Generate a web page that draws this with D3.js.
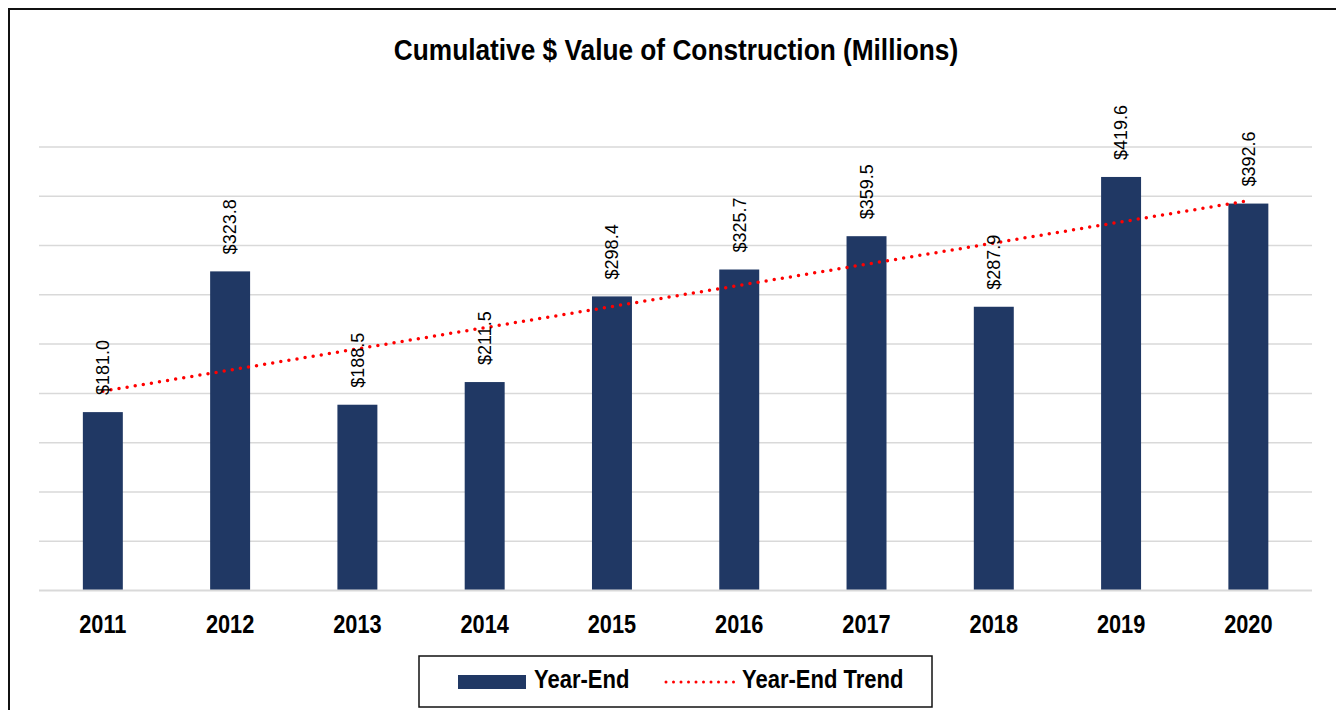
<!DOCTYPE html>
<html>
<head>
<meta charset="utf-8">
<script src="https://cdn.jsdelivr.net/npm/d3@7"></script>
<style>
  body { margin: 0; background: #fff; }
  svg { display: block; }
</style>
</head>
<body>
<div id="chart"></div>
<script>
var years = ["2011", "2012", "2013", "2014", "2015", "2016", "2017", "2018", "2019", "2020"];
var yearEnd = [181.0, 323.8, 188.5, 211.5, 298.4, 325.7, 359.5, 287.9, 419.6, 392.6];
var gridTicks = [50, 100, 150, 200, 250, 300, 350, 400, 450];

var narrow = "'Liberation Sans Narrow', 'Arial Narrow', 'Liberation Sans', Arial, sans-serif";
var navy = "#203864";

// squeeze text horizontally to fake a narrow face
function condense(sel, ratio) {
    sel.each(function() {
        var w = this.getComputedTextLength();
        d3.select(this)
            .attr("textLength", w * ratio)
            .attr("lengthAdjust", "spacingAndGlyphs");
    });
}

var svg = d3.select("#chart")
    .append("svg")
    .attr("width", 1336)
    .attr("height", 710);

// outer frame (runs off the right and bottom edges)
svg.append("rect")
    .attr("x", 9).attr("y", 9)
    .attr("width", 1400).attr("height", 800)
    .attr("fill", "none")
    .attr("stroke", "#111")
    .attr("stroke-width", 2);

svg.append("text")
    .attr("x", 676).attr("y", 60)
    .attr("text-anchor", "middle")
    .style("font-family", narrow)
    .style("font-weight", "bold")
    .style("font-size", "29px")
    .text("Cumulative $ Value of Construction (Millions)")
    .call(condense, 0.905);

var x = d3.scaleBand()
    .domain(years)
    .range([39.2, 1312])
    .paddingInner(0.686)
    .paddingOuter(0.343);

var y = d3.scaleLinear()
    .domain([0, 450])
    .range([590.5, 147]);

// gridlines
svg.append("g")
    .selectAll("line")
    .data(gridTicks)
    .enter().append("line")
    .attr("x1", 39).attr("x2", 1312)
    .attr("y1", function(d) { return y(d); })
    .attr("y2", function(d) { return y(d); })
    .attr("stroke", "#d9d9d9")
    .attr("stroke-width", 1.5);

var data = years.map(function(yr, i) { return { year: yr, value: yearEnd[i] }; });

svg.append("g")
    .selectAll("rect")
    .data(data)
    .enter().append("rect")
    .attr("x", function(d) { return x(d.year); })
    .attr("width", x.bandwidth())
    .attr("y", function(d) { return y(d.value); })
    .attr("height", function(d) { return y(0) - y(d.value); })
    .attr("fill", navy);

// baseline
svg.append("line")
    .attr("x1", 39).attr("x2", 1312)
    .attr("y1", y(0)).attr("y2", y(0))
    .attr("stroke", "#d9d9d9")
    .attr("stroke-width", 2);

// x axis labels
var xAxis = svg.append("g")
    .attr("transform", "translate(0," + y(0) + ")")
    .call(d3.axisBottom(x).tickSize(0).tickPadding(0));
xAxis.select(".domain").remove();
xAxis.selectAll("text")
    .attr("y", 42.5)
    .attr("dy", 0)
    .style("font-family", narrow)
    .style("font-weight", "bold")
    .style("font-size", "25px")
    .attr("fill", "#000")
    .call(condense, 0.87);

// linear trend (least squares over the bars)
var n = yearEnd.length;
var mx = d3.mean(d3.range(n), function(i) { return i; });
var my = d3.mean(yearEnd);
var slope = d3.sum(d3.range(n), function(i) { return (i - mx) * (yearEnd[i] - my); }) /
            d3.sum(d3.range(n), function(i) { return (i - mx) * (i - mx); });
var trend = data.map(function(d, i) { return { year: d.year, value: my + slope * (i - mx) }; });

var line = d3.line()
    .x(function(d) { return x(d.year) + x.bandwidth() / 2; })
    .y(function(d) { return y(d.value); });

svg.append("path")
    .datum([trend[0], trend[n - 1]])
    .attr("d", line)
    .attr("fill", "none")
    .attr("stroke", "#ff0000")
    .attr("stroke-width", 3.5)
    .attr("stroke-linecap", "round")
    .attr("stroke-dasharray", "0,8.2");

// data labels
var fmt = d3.format("$.1f");
svg.append("g")
    .selectAll("text")
    .data(data)
    .enter().append("text")
    .attr("transform", function(d) {
        return "translate(" + (x(d.year) + x.bandwidth() / 2) + "," + (y(d.value) - 17) + ") rotate(-90)";
    })
    .attr("dy", "0.35em")
    .style("font-family", "'Liberation Sans', Arial, sans-serif")
    .style("font-size", "18px")
    .attr("fill", "#000")
    .text(function(d) { return fmt(d.value); });

// legend
var legend = svg.append("g");
legend.append("rect")
    .attr("x", 419).attr("y", 656)
    .attr("width", 513).attr("height", 51)
    .attr("fill", "#fff")
    .attr("stroke", "#111")
    .attr("stroke-width", 1.5);
legend.append("rect")
    .attr("x", 458).attr("y", 675)
    .attr("width", 68).attr("height", 14)
    .attr("fill", navy);
legend.append("text")
    .attr("x", 534).attr("y", 688)
    .style("font-family", narrow)
    .style("font-weight", "bold")
    .style("font-size", "25px")
    .text("Year-End")
    .call(condense, 0.88);
legend.append("line")
    .attr("x1", 666).attr("x2", 734)
    .attr("y1", 682).attr("y2", 682)
    .attr("stroke", "#ff0000")
    .attr("stroke-width", 3)
    .attr("stroke-linecap", "round")
    .attr("stroke-dasharray", "0,7.5");
legend.append("text")
    .attr("x", 742).attr("y", 688)
    .style("font-family", narrow)
    .style("font-weight", "bold")
    .style("font-size", "25px")
    .text("Year-End Trend")
    .call(condense, 0.88);
</script>
</body>
</html>
